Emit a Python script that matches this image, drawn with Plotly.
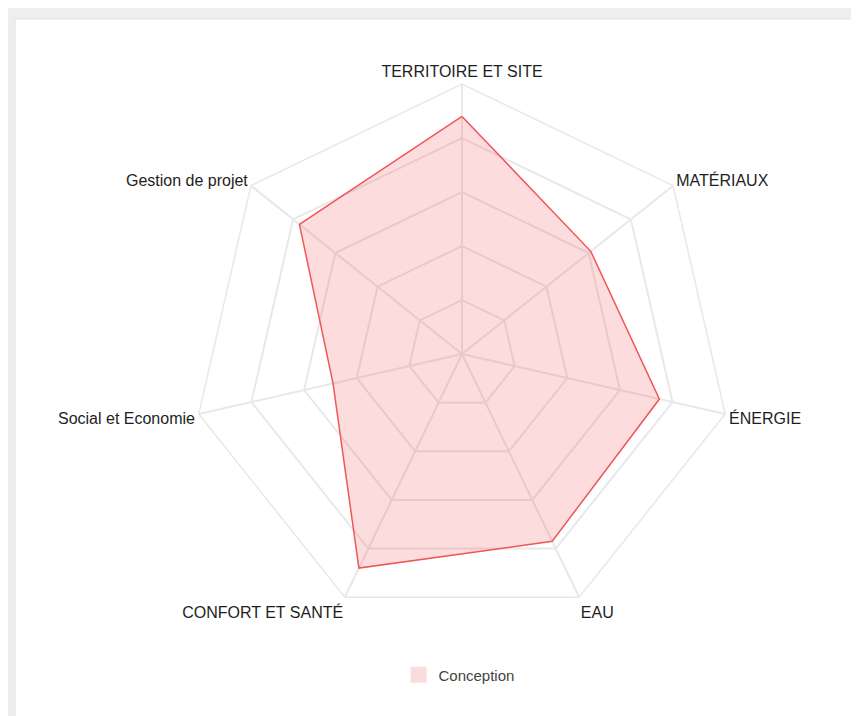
import plotly.graph_objects as go

categories = [
    "TERRITOIRE ET SITE",
    "MATÉRIAUX",
    "ÉNERGIE",
    "EAU",
    "CONFORT ET SANTÉ",
    "Social et Economie",
    "Gestion de projet",
]
conception = [88, 61, 75, 77, 88, 49, 77]

W, H = 859, 716
# plotly centres the heptagon's bounding box, so the domain is nudged a bit
cx, cy, R = 454, 346, 270

fig = go.Figure()
fig.add_trace(
    go.Scatterpolar(
        r=conception + conception[:1],
        theta=categories + categories[:1],
        mode="lines",
        fill="toself",
        name="Conception",
        line=dict(color="#ef5757", width=1.5),
        fillcolor="rgba(240,80,80,0.2)",
        showlegend=False,
    )
)
# legend entry only: a pink box like the original
fig.add_trace(
    go.Scatterpolar(
        r=[None],
        theta=[categories[0]],
        mode="markers",
        name="Conception",
        marker=dict(symbol="square", size=16, color="#f9dcdd", line=dict(width=0)),
        showlegend=True,
    )
)

fig.update_layout(
    width=W,
    height=H,
    margin=dict(l=0, r=0, t=0, b=0),
    paper_bgcolor="#eeeeee",
    font=dict(family="Liberation Sans, Arial, sans-serif", size=14, color="#333333"),
    shapes=[
        dict(
            type="rect", xref="paper", yref="paper",
            x0=7 / W, x1=1.01, y0=-0.01, y1=1 - 11 / H,
            fillcolor="white", line=dict(color="#e2e2e2", width=1),
            layer="below",
        )
    ],
    polar=dict(
        bgcolor="rgba(0,0,0,0)",
        gridshape="linear",
        domain=dict(
            x=[(cx - R) / W, (cx + R) / W],
            y=[1 - (cy + R) / H, 1 - (cy - R) / H],
        ),
        radialaxis=dict(
            range=[0, 100],
            tickvals=[20, 40, 60, 80, 100],
            showticklabels=False,
            ticks="",
            showline=False,
            gridcolor="#e8e8e8",
            gridwidth=1.5,
        ),
        angularaxis=dict(
            direction="clockwise",
            rotation=90,
            ticks="",
            showline=True,
            linecolor="#e8e8e8",
            linewidth=1.5,
            gridcolor="#e8e8e8",
            gridwidth=1.5,
            tickfont=dict(size=16, color="#1e1e1e"),
        ),
    ),
    legend=dict(
        orientation="h",
        x=451 / W, xanchor="center",
        y=1 - 667 / H, yanchor="middle",
        font=dict(size=15, color="#444444"),
        bgcolor="rgba(0,0,0,0)",
    ),
    showlegend=True,
)

fig.write_html("out.html")
